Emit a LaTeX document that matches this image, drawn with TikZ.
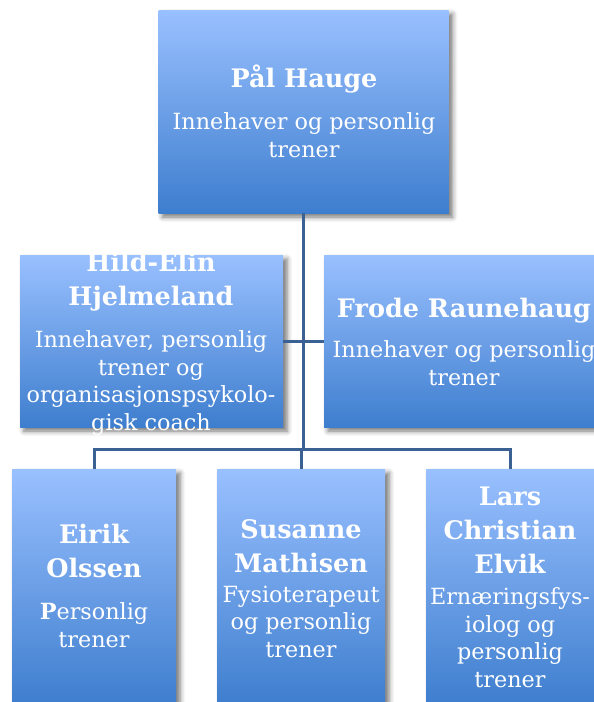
\documentclass[tikz,border=0pt]{standalone}
\usepackage{fontspec}
\setmainfont{DejaVu Serif}
\usetikzlibrary{shadows.blur}
\definecolor{boxtop}{RGB}{153,192,255}
\definecolor{boxbot}{RGB}{62,126,206}
\definecolor{linkblue}{RGB}{58,96,148}

\tikzset{
  card/.style={rectangle, inner sep=0pt, draw=none,
    top color=boxtop, bottom color=boxbot,
    blur shadow={shadow xshift=4pt, shadow yshift=-4pt,
      shadow blur radius=5pt, shadow opacity=55}},
  link/.style={draw=linkblue, line width=3pt},
  % multi-line text nodes sit on the baseline of their last line
  who/.style={text=white, font=\bfseries\fontsize{25.5}{34}\selectfont,
    align=center, anchor=base, inner sep=0pt},
  role/.style={text=white, font=\fontsize{22.3}{27.5}\selectfont,
    align=center, anchor=base, inner sep=0pt},
}

\begin{document}
\begin{tikzpicture}[x=1pt, y=-1pt]
\useasboundingbox (0,0) rectangle (594,702);
\clip (0,0) rectangle (594,702);

% boxes
\node[card, minimum width=290pt, minimum height=203pt] (hauge) at (303.5,111.5) {};
\node[card, minimum width=263pt, minimum height=172pt] (hild) at (151.5,341) {};
\node[card, minimum width=280pt, minimum height=172pt] (frode) at (464,341) {};
\node[card, minimum width=164pt, minimum height=236pt] (eirik) at (94,587) {};
\node[card, minimum width=168pt, minimum height=236pt] (susanne) at (301,587) {};
\node[card, minimum width=168pt, minimum height=236pt] (lars) at (510,587) {};

% connectors
\coordinate (bus) at (303,449);
\draw[link] (hauge.south) -- (hauge.south |- bus);
\draw[link] (eirik.north) |- (bus) -| (lars.north);
\draw[link] (susanne.north) -- (susanne.north |- bus);
\draw[link] (hild.east) -- (frode.west);

% texts
\node[who] (hauge-name) at (304,87) {Pål Hauge};
\node[role] (hauge-role) at (304,157) {Innehaver og personlig\\trener};

\node[who] (hild-name) at (151,305) {Hild-Elin\\Hjelmeland};
\node[role] (hild-role) at (151,430) {Innehaver, personlig\\trener og\\organisasjonspsykolo-\\gisk coach};

\node[who] (frode-name) at (464,317) {Frode Raunehaug};
\node[role] (frode-role) at (464,385) {Innehaver og personlig\\trener};

\node[who] (eirik-name) at (94,577) {Eirik\\Olssen};
\node[role] (eirik-role) at (94,647) {\textbf{P}ersonlig\\trener};

\node[who] (susanne-name) at (301,572) {Susanne\\Mathisen};
\node[role] (susanne-role) at (301,657) {Fysioterapeut\\og personlig\\trener};

\node[who] (lars-name) at (510,573) {Lars\\Christian\\Elvik};
\node[role] (lars-role) at (510,687) {Ernæringsfys-\\iolog og\\personlig\\trener};
\end{tikzpicture}
\end{document}
